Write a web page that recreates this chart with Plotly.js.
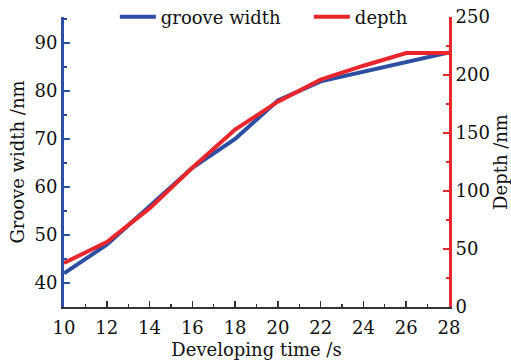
<!DOCTYPE html>
<html><head><meta charset="utf-8">
<script src="https://cdn.plot.ly/plotly-3.0.1.min.js"></script>
<style>html,body{margin:0;padding:0;background:#fff}#c{width:511px;height:364px}</style>
</head><body><div id="c"></div>
<script>
const times = [10, 12, 14, 16, 18, 20, 22, 24, 26, 28];
const grooveWidth = [42, 48, 56, 64, 70, 78, 82, 84, 86, 88];
const depth = [38, 56, 85, 120, 153, 177, 196, 208, 219, 219];
const xTicks = [10, 12, 14, 16, 18, 20, 22, 24, 26, 28];
const leftTicks = [40, 50, 60, 70, 80, 90];
const rightTicks = [0, 50, 100, 150, 200, 250];

const BLUE = '#2c4fa3', RED = '#e8262b';
const F = 'DejaVu Serif, Liberation Serif, serif';

const data = [
  {x: times, y: grooveWidth, name: 'groove width', type: 'scatter', mode: 'lines',
   line: {color: BLUE, width: 4}, yaxis: 'y', legend: 'legend'},
  {x: times, y: depth, name: 'depth', type: 'scatter', mode: 'lines',
   line: {color: RED, width: 4}, yaxis: 'y2', legend: 'legend2'}
];
const legendBase = {orientation: 'h', y: 1.0, xanchor: 'left', yanchor: 'middle', itemwidth: 36,
                    bgcolor: 'rgba(0,0,0,0)', font: {family: F, size: 18, color: '#111'}};
const layout = {
  width: 511, height: 364,
  margin: {l: 64, r: 62, t: 17, b: 57, autoexpand: false},
  paper_bgcolor: '#fff', plot_bgcolor: '#fff',
  font: {family: F, size: 18, color: '#111'},
  showlegend: true,
  legend: Object.assign({}, legendBase, {x: 0.132}),
  legend2: Object.assign({}, legendBase, {x: 0.636}),
  xaxis: {range: [10, 28], tickvals: xTicks, ticktext: xTicks.map(String),
          showgrid: false, zeroline: false, showline: true, linecolor: '#333', linewidth: 1.5,
          ticks: 'inside', ticklen: 6, tickwidth: 1.5, tickcolor: '#333', ticklabelstandoff: 4,
          minor: {ticks: 'inside', dtick: 1, tick0: 10, ticklen: 3, tickcolor: '#333', tickwidth: 1.2},
          title: {text: 'Developing time /s', font: {family: F, size: 18}, standoff: 6},
          tickfont: {family: F, size: 18}},
  yaxis: {range: [35, 95.4], tickvals: leftTicks, showgrid: false, zeroline: false,
          showline: true, linecolor: BLUE, linewidth: 3,
          ticks: 'inside', ticklen: 6, tickwidth: 2, tickcolor: BLUE,
          minor: {ticks: 'inside', dtick: 5, tick0: 35, ticklen: 3, tickcolor: BLUE, tickwidth: 2},
          title: {text: 'Groove width /nm', font: {family: F, size: 18}, standoff: 6},
          tickfont: {family: F, size: 18}},
  yaxis2: {range: [0, 250], tickvals: rightTicks, overlaying: 'y', side: 'right',
           showgrid: false, zeroline: false, showline: true, linecolor: RED, linewidth: 3,
           ticks: 'inside', ticklen: 6, tickwidth: 2, tickcolor: RED,
           minor: {ticks: 'inside', dtick: 25, tick0: 0, ticklen: 3, tickcolor: RED, tickwidth: 2},
           title: {text: 'Depth /nm', font: {family: F, size: 18}, standoff: 6},
           tickfont: {family: F, size: 18}}
};
Plotly.newPlot('c', data, layout, {staticPlot: true, displayModeBar: false});
</script>
</body></html>
